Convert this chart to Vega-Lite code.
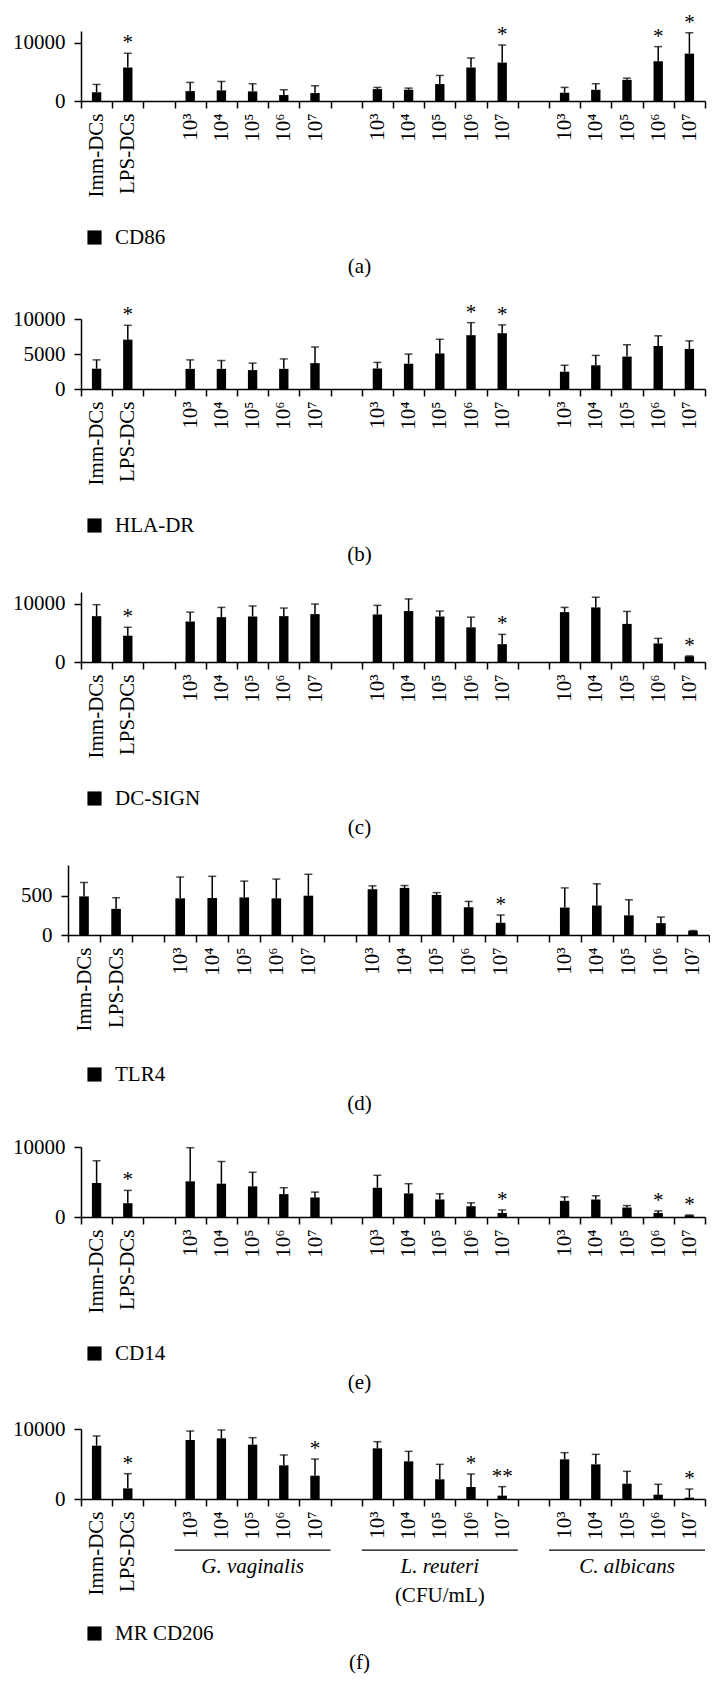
{
  "$schema": "https://vega.github.io/schema/vega-lite/v6.json",
  "padding": {"left": 12, "top": 11, "right": 0, "bottom": 5},
  "background": "white",
  "datasets": {
    "a": [
      {"k": "a|Imm-DCs", "v": 1500, "e": 2840, "s": "", "m": "CD86"},
      {"k": "b|LPS-DCs", "v": 5740, "e": 8180, "s": "*", "m": "CD86"},
      {"k": "G|10³", "v": 1700, "e": 3190, "s": "", "m": "CD86"},
      {"k": "G|10⁴", "v": 1820, "e": 3350, "s": "", "m": "CD86"},
      {"k": "G|10⁵", "v": 1650, "e": 2960, "s": "", "m": "CD86"},
      {"k": "G|10⁶", "v": 1020, "e": 1930, "s": "", "m": "CD86"},
      {"k": "G|10⁷", "v": 1360, "e": 2610, "s": "", "m": "CD86"},
      {"k": "L|10³", "v": 2040, "e": 2330, "s": "", "m": "CD86"},
      {"k": "L|10⁴", "v": 1930, "e": 2210, "s": "", "m": "CD86"},
      {"k": "L|10⁵", "v": 2900, "e": 4380, "s": "", "m": "CD86"},
      {"k": "L|10⁶", "v": 5740, "e": 7380, "s": "", "m": "CD86"},
      {"k": "L|10⁷", "v": 6590, "e": 9600, "s": "*", "m": "CD86"},
      {"k": "C|10³", "v": 1420, "e": 2330, "s": "", "m": "CD86"},
      {"k": "C|10⁴", "v": 1930, "e": 2960, "s": "", "m": "CD86"},
      {"k": "C|10⁵", "v": 3630, "e": 3920, "s": "", "m": "CD86"},
      {"k": "C|10⁶", "v": 6810, "e": 9320, "s": "*", "m": "CD86"},
      {"k": "C|10⁷", "v": 8120, "e": 11700, "s": "*", "m": "CD86"}
    ],
    "b": [
      {"k": "a|Imm-DCs", "v": 2900, "e": 4160, "s": "", "m": "HLA-DR"},
      {"k": "b|LPS-DCs", "v": 7050, "e": 9100, "s": "*", "m": "HLA-DR"},
      {"k": "G|10³", "v": 2880, "e": 4160, "s": "", "m": "HLA-DR"},
      {"k": "G|10⁴", "v": 2880, "e": 4070, "s": "", "m": "HLA-DR"},
      {"k": "G|10⁵", "v": 2700, "e": 3700, "s": "", "m": "HLA-DR"},
      {"k": "G|10⁶", "v": 2880, "e": 4300, "s": "", "m": "HLA-DR"},
      {"k": "G|10⁷", "v": 3700, "e": 6000, "s": "", "m": "HLA-DR"},
      {"k": "L|10³", "v": 2930, "e": 3800, "s": "", "m": "HLA-DR"},
      {"k": "L|10⁴", "v": 3610, "e": 4990, "s": "", "m": "HLA-DR"},
      {"k": "L|10⁵", "v": 5080, "e": 7100, "s": "", "m": "HLA-DR"},
      {"k": "L|10⁶", "v": 7690, "e": 9480, "s": "*", "m": "HLA-DR"},
      {"k": "L|10⁷", "v": 7970, "e": 9160, "s": "*", "m": "HLA-DR"},
      {"k": "C|10³", "v": 2470, "e": 3390, "s": "", "m": "HLA-DR"},
      {"k": "C|10⁴", "v": 3390, "e": 4800, "s": "", "m": "HLA-DR"},
      {"k": "C|10⁵", "v": 4630, "e": 6320, "s": "", "m": "HLA-DR"},
      {"k": "C|10⁶", "v": 6140, "e": 7600, "s": "", "m": "HLA-DR"},
      {"k": "C|10⁷", "v": 5730, "e": 6870, "s": "", "m": "HLA-DR"}
    ],
    "c": [
      {"k": "a|Imm-DCs", "v": 7860, "e": 9830, "s": "", "m": "DC-SIGN"},
      {"k": "b|LPS-DCs", "v": 4510, "e": 5950, "s": "*", "m": "DC-SIGN"},
      {"k": "G|10³", "v": 6940, "e": 8550, "s": "", "m": "DC-SIGN"},
      {"k": "G|10⁴", "v": 7690, "e": 9360, "s": "", "m": "DC-SIGN"},
      {"k": "G|10⁵", "v": 7800, "e": 9600, "s": "", "m": "DC-SIGN"},
      {"k": "G|10⁶", "v": 7860, "e": 9250, "s": "", "m": "DC-SIGN"},
      {"k": "G|10⁷", "v": 8210, "e": 9940, "s": "", "m": "DC-SIGN"},
      {"k": "L|10³", "v": 8150, "e": 9710, "s": "", "m": "DC-SIGN"},
      {"k": "L|10⁴", "v": 8730, "e": 10810, "s": "", "m": "DC-SIGN"},
      {"k": "L|10⁵", "v": 7800, "e": 8730, "s": "", "m": "DC-SIGN"},
      {"k": "L|10⁶", "v": 5950, "e": 7690, "s": "", "m": "DC-SIGN"},
      {"k": "L|10⁷", "v": 3060, "e": 4740, "s": "*", "m": "DC-SIGN"},
      {"k": "C|10³", "v": 8550, "e": 9360, "s": "", "m": "DC-SIGN"},
      {"k": "C|10⁴", "v": 9360, "e": 11100, "s": "", "m": "DC-SIGN"},
      {"k": "C|10⁵", "v": 6530, "e": 8670, "s": "", "m": "DC-SIGN"},
      {"k": "C|10⁶", "v": 3180, "e": 4050, "s": "", "m": "DC-SIGN"},
      {"k": "C|10⁷", "v": 980, "e": 1040, "s": "*", "m": "DC-SIGN"}
    ],
    "d": [
      {"k": "a|Imm-DCs", "v": 491, "e": 668, "s": "", "m": "TLR4"},
      {"k": "b|LPS-DCs", "v": 332, "e": 474, "s": "", "m": "TLR4"},
      {"k": "G|10³", "v": 466, "e": 737, "s": "", "m": "TLR4"},
      {"k": "G|10⁴", "v": 470, "e": 746, "s": "", "m": "TLR4"},
      {"k": "G|10⁵", "v": 478, "e": 685, "s": "", "m": "TLR4"},
      {"k": "G|10⁶", "v": 466, "e": 711, "s": "", "m": "TLR4"},
      {"k": "G|10⁷", "v": 500, "e": 772, "s": "", "m": "TLR4"},
      {"k": "L|10³", "v": 582, "e": 625, "s": "", "m": "TLR4"},
      {"k": "L|10⁴", "v": 599, "e": 629, "s": "", "m": "TLR4"},
      {"k": "L|10⁵", "v": 509, "e": 539, "s": "", "m": "TLR4"},
      {"k": "L|10⁶", "v": 353, "e": 427, "s": "", "m": "TLR4"},
      {"k": "L|10⁷", "v": 155, "e": 254, "s": "*", "m": "TLR4"},
      {"k": "C|10³", "v": 349, "e": 599, "s": "", "m": "TLR4"},
      {"k": "C|10⁴", "v": 375, "e": 651, "s": "", "m": "TLR4"},
      {"k": "C|10⁵", "v": 250, "e": 448, "s": "", "m": "TLR4"},
      {"k": "C|10⁶", "v": 151, "e": 228, "s": "", "m": "TLR4"},
      {"k": "C|10⁷", "v": 52, "e": 56, "s": "", "m": "TLR4"}
    ],
    "e": [
      {"k": "a|Imm-DCs", "v": 4860, "e": 8030, "s": "", "m": "CD14"},
      {"k": "b|LPS-DCs", "v": 1970, "e": 3800, "s": "*", "m": "CD14"},
      {"k": "G|10³", "v": 5100, "e": 9900, "s": "", "m": "CD14"},
      {"k": "G|10⁴", "v": 4760, "e": 7930, "s": "", "m": "CD14"},
      {"k": "G|10⁵", "v": 4380, "e": 6390, "s": "", "m": "CD14"},
      {"k": "G|10⁶", "v": 3270, "e": 4180, "s": "", "m": "CD14"},
      {"k": "G|10⁷", "v": 2790, "e": 3560, "s": "", "m": "CD14"},
      {"k": "L|10³", "v": 4180, "e": 5960, "s": "", "m": "CD14"},
      {"k": "L|10⁴", "v": 3370, "e": 4760, "s": "", "m": "CD14"},
      {"k": "L|10⁵", "v": 2500, "e": 3320, "s": "", "m": "CD14"},
      {"k": "L|10⁶", "v": 1540, "e": 2020, "s": "", "m": "CD14"},
      {"k": "L|10⁷", "v": 580, "e": 1010, "s": "*", "m": "CD14"},
      {"k": "C|10³", "v": 2310, "e": 2880, "s": "", "m": "CD14"},
      {"k": "C|10⁴", "v": 2500, "e": 3030, "s": "", "m": "CD14"},
      {"k": "C|10⁵", "v": 1350, "e": 1630, "s": "", "m": "CD14"},
      {"k": "C|10⁶", "v": 580, "e": 870, "s": "*", "m": "CD14"},
      {"k": "C|10⁷", "v": 240, "e": 290, "s": "*", "m": "CD14"}
    ],
    "f": [
      {"k": "a|Imm-DCs", "v": 7620, "e": 9000, "s": "", "m": "MR CD206"},
      {"k": "b|LPS-DCs", "v": 1520, "e": 3620, "s": "*", "m": "MR CD206"},
      {"k": "G|10³", "v": 8430, "e": 9710, "s": "", "m": "MR CD206"},
      {"k": "G|10⁴", "v": 8670, "e": 9860, "s": "", "m": "MR CD206"},
      {"k": "G|10⁵", "v": 7760, "e": 8760, "s": "", "m": "MR CD206"},
      {"k": "G|10⁶", "v": 4810, "e": 6290, "s": "", "m": "MR CD206"},
      {"k": "G|10⁷", "v": 3330, "e": 5710, "s": "*", "m": "MR CD206"},
      {"k": "L|10³", "v": 7240, "e": 8190, "s": "", "m": "MR CD206"},
      {"k": "L|10⁴", "v": 5380, "e": 6810, "s": "", "m": "MR CD206"},
      {"k": "L|10⁵", "v": 2810, "e": 4950, "s": "", "m": "MR CD206"},
      {"k": "L|10⁶", "v": 1710, "e": 3570, "s": "*", "m": "MR CD206"},
      {"k": "L|10⁷", "v": 480, "e": 1760, "s": "**", "m": "MR CD206"},
      {"k": "C|10³", "v": 5670, "e": 6620, "s": "", "m": "MR CD206"},
      {"k": "C|10⁴", "v": 4950, "e": 6380, "s": "", "m": "MR CD206"},
      {"k": "C|10⁵", "v": 2190, "e": 3950, "s": "", "m": "MR CD206"},
      {"k": "C|10⁶", "v": 620, "e": 2100, "s": "", "m": "MR CD206"},
      {"k": "C|10⁷", "v": 190, "e": 1430, "s": "*", "m": "MR CD206"}
    ],
    "grp": [
      {"g": "G. vaginalis", "a": "G|10³", "b": "G|10⁷", "c": "G|10⁵"},
      {"g": "L. reuteri", "a": "L|10³", "b": "L|10⁷", "c": "L|10⁵"},
      {"g": "C. albicans", "a": "C|10³", "b": "C|10⁷", "c": "C|10⁵"}
    ],
    "unit": [
      {"c": "L|10⁵", "t": "(CFU/mL)"}
    ]
  },
  "vconcat": [
    {
      "width": 641, "height": 70,
      "data": {"name": "a"},
      "title": {"text": "(a)", "dx": -29},
      "layer": [
        {"mark": {"type": "bar", "width": {"band": 0.3}},
         "encoding": {
           "x": {"field": "k", "type": "nominal", "sort": null, "title": null,
                 "scale": {"domain": ["a|Imm-DCs","b|LPS-DCs","s1|","G|10³","G|10⁴","G|10⁵","G|10⁶","G|10⁷","s2|","L|10³","L|10⁴","L|10⁵","L|10⁶","L|10⁷","s3|","C|10³","C|10⁴","C|10⁵","C|10⁶","C|10⁷"], "range": [13, 637], "paddingInner": 0, "paddingOuter": 0}},
           "y": {"field": "v", "type": "quantitative", "title": null,
                 "scale": {"domain": [0, 12000], "range": [70, 0], "nice": false, "zero": true},
                 "axis": {"values": [0, 5000, 10000], "offset": -13}},
           "color": {"field": "m", "type": "nominal", "scale": {"range": ["black"]},
                     "legend": {"title": null, "legendX": 16, "legendY": 196}}
         }},
        {"mark": {"type": "rule", "strokeWidth": 1.5, "color": "black"},
         "encoding": {"x": {"field": "k", "type": "nominal", "sort": null}, "y": {"field": "v", "type": "quantitative", "title": null}, "y2": {"field": "e"}}},
        {"mark": {"type": "tick", "size": 8, "thickness": 1.5, "color": "black"},
         "encoding": {"x": {"field": "k", "type": "nominal", "sort": null}, "y": {"field": "e", "type": "quantitative", "title": null}}},
        {"mark": {"type": "text", "dy": -4, "baseline": "alphabetic", "fontSize": 21, "font": "Liberation Serif", "color": "black"},
         "encoding": {"x": {"field": "k", "type": "nominal", "sort": null}, "y": {"field": "e", "type": "quantitative", "title": null}, "text": {"field": "s"}}}
      ]
    },
    {
      "width": 641, "height": 86,
      "data": {"name": "b"},
      "title": {"text": "(b)", "dx": -29},
      "layer": [
        {"mark": {"type": "bar", "width": {"band": 0.3}},
         "encoding": {
           "x": {"field": "k", "type": "nominal", "sort": null, "title": null,
                 "scale": {"domain": ["a|Imm-DCs","b|LPS-DCs","s1|","G|10³","G|10⁴","G|10⁵","G|10⁶","G|10⁷","s2|","L|10³","L|10⁴","L|10⁵","L|10⁶","L|10⁷","s3|","C|10³","C|10⁴","C|10⁵","C|10⁶","C|10⁷"], "range": [13, 637], "paddingInner": 0, "paddingOuter": 0}},
           "y": {"field": "v", "type": "quantitative", "title": null,
                 "scale": {"domain": [0, 10000], "range": [86, 16], "nice": false, "zero": true},
                 "axis": {"values": [0, 5000, 10000], "offset": -13}},
           "color": {"field": "m", "type": "nominal", "scale": {"range": ["black"]},
                     "legend": {"title": null, "legendX": 16, "legendY": 212}}
         }},
        {"mark": {"type": "rule", "strokeWidth": 1.5, "color": "black"},
         "encoding": {"x": {"field": "k", "type": "nominal", "sort": null}, "y": {"field": "v", "type": "quantitative", "title": null}, "y2": {"field": "e"}}},
        {"mark": {"type": "tick", "size": 8, "thickness": 1.5, "color": "black"},
         "encoding": {"x": {"field": "k", "type": "nominal", "sort": null}, "y": {"field": "e", "type": "quantitative", "title": null}}},
        {"mark": {"type": "text", "dy": -4, "baseline": "alphabetic", "fontSize": 21, "font": "Liberation Serif", "color": "black"},
         "encoding": {"x": {"field": "k", "type": "nominal", "sort": null}, "y": {"field": "e", "type": "quantitative", "title": null}, "text": {"field": "s"}}}
      ]
    },
    {
      "width": 641, "height": 71,
      "data": {"name": "c"},
      "title": {"text": "(c)", "dx": -29},
      "layer": [
        {"mark": {"type": "bar", "width": {"band": 0.3}},
         "encoding": {
           "x": {"field": "k", "type": "nominal", "sort": null, "title": null,
                 "scale": {"domain": ["a|Imm-DCs","b|LPS-DCs","s1|","G|10³","G|10⁴","G|10⁵","G|10⁶","G|10⁷","s2|","L|10³","L|10⁴","L|10⁵","L|10⁶","L|10⁷","s3|","C|10³","C|10⁴","C|10⁵","C|10⁶","C|10⁷"], "range": [13, 637], "paddingInner": 0, "paddingOuter": 0}},
           "y": {"field": "v", "type": "quantitative", "title": null,
                 "scale": {"domain": [0, 12000], "range": [71, 1], "nice": false, "zero": true},
                 "axis": {"values": [0, 5000, 10000], "offset": -13}},
           "color": {"field": "m", "type": "nominal", "scale": {"range": ["black"]},
                     "legend": {"title": null, "legendX": 16, "legendY": 197}}
         }},
        {"mark": {"type": "rule", "strokeWidth": 1.5, "color": "black"},
         "encoding": {"x": {"field": "k", "type": "nominal", "sort": null}, "y": {"field": "v", "type": "quantitative", "title": null}, "y2": {"field": "e"}}},
        {"mark": {"type": "tick", "size": 8, "thickness": 1.5, "color": "black"},
         "encoding": {"x": {"field": "k", "type": "nominal", "sort": null}, "y": {"field": "e", "type": "quantitative", "title": null}}},
        {"mark": {"type": "text", "dy": -4, "baseline": "alphabetic", "fontSize": 21, "font": "Liberation Serif", "color": "black"},
         "encoding": {"x": {"field": "k", "type": "nominal", "sort": null}, "y": {"field": "e", "type": "quantitative", "title": null}, "text": {"field": "s"}}}
      ]
    },
    {
      "width": 641, "height": 71,
      "data": {"name": "d"},
      "title": {"text": "(d)", "dx": -29},
      "layer": [
        {"mark": {"type": "bar", "width": {"band": 0.3}},
         "encoding": {
           "x": {"field": "k", "type": "nominal", "sort": null, "title": null,
                 "scale": {"domain": ["a|Imm-DCs","b|LPS-DCs","s1|","G|10³","G|10⁴","G|10⁵","G|10⁶","G|10⁷","s2|","L|10³","L|10⁴","L|10⁵","L|10⁶","L|10⁷","s3|","C|10³","C|10⁴","C|10⁵","C|10⁶","C|10⁷"], "range": [0, 641], "paddingInner": 0, "paddingOuter": 0}},
           "y": {"field": "v", "type": "quantitative", "title": null,
                 "scale": {"domain": [0, 890], "range": [71, 1], "nice": false, "zero": true},
                 "axis": {"values": [0, 500], "offset": 0}},
           "color": {"field": "m", "type": "nominal", "scale": {"range": ["black"]},
                     "legend": {"title": null, "legendX": 16, "legendY": 200}}
         }},
        {"mark": {"type": "rule", "strokeWidth": 1.5, "color": "black"},
         "encoding": {"x": {"field": "k", "type": "nominal", "sort": null}, "y": {"field": "v", "type": "quantitative", "title": null}, "y2": {"field": "e"}}},
        {"mark": {"type": "tick", "size": 8, "thickness": 1.5, "color": "black"},
         "encoding": {"x": {"field": "k", "type": "nominal", "sort": null}, "y": {"field": "e", "type": "quantitative", "title": null}}},
        {"mark": {"type": "text", "dy": -4, "baseline": "alphabetic", "fontSize": 21, "font": "Liberation Serif", "color": "black"},
         "encoding": {"x": {"field": "k", "type": "nominal", "sort": null}, "y": {"field": "e", "type": "quantitative", "title": null}, "text": {"field": "s"}}}
      ]
    },
    {
      "width": 641, "height": 80,
      "data": {"name": "e"},
      "title": {"text": "(e)", "dx": -29},
      "layer": [
        {"mark": {"type": "bar", "width": {"band": 0.3}},
         "encoding": {
           "x": {"field": "k", "type": "nominal", "sort": null, "title": null,
                 "scale": {"domain": ["a|Imm-DCs","b|LPS-DCs","s1|","G|10³","G|10⁴","G|10⁵","G|10⁶","G|10⁷","s2|","L|10³","L|10⁴","L|10⁵","L|10⁶","L|10⁷","s3|","C|10³","C|10⁴","C|10⁵","C|10⁶","C|10⁷"], "range": [13, 637], "paddingInner": 0, "paddingOuter": 0}},
           "y": {"field": "v", "type": "quantitative", "title": null,
                 "scale": {"domain": [0, 10000], "range": [80, 10], "nice": false, "zero": true},
                 "axis": {"values": [0, 5000, 10000], "offset": -13}},
           "color": {"field": "m", "type": "nominal", "scale": {"range": ["black"]},
                     "legend": {"title": null, "legendX": 16, "legendY": 206}}
         }},
        {"mark": {"type": "rule", "strokeWidth": 1.5, "color": "black"},
         "encoding": {"x": {"field": "k", "type": "nominal", "sort": null}, "y": {"field": "v", "type": "quantitative", "title": null}, "y2": {"field": "e"}}},
        {"mark": {"type": "tick", "size": 8, "thickness": 1.5, "color": "black"},
         "encoding": {"x": {"field": "k", "type": "nominal", "sort": null}, "y": {"field": "e", "type": "quantitative", "title": null}}},
        {"mark": {"type": "text", "dy": -4, "baseline": "alphabetic", "fontSize": 21, "font": "Liberation Serif", "color": "black"},
         "encoding": {"x": {"field": "k", "type": "nominal", "sort": null}, "y": {"field": "e", "type": "quantitative", "title": null}, "text": {"field": "s"}}}
      ]
    },
    {
      "width": 641, "height": 80,
      "title": {"text": "(f)", "dx": -29},
      "layer": [
        {"data": {"name": "f"},
         "mark": {"type": "bar", "width": {"band": 0.3}},
         "encoding": {
           "x": {"field": "k", "type": "nominal", "sort": null, "title": null,
                 "scale": {"domain": ["a|Imm-DCs","b|LPS-DCs","s1|","G|10³","G|10⁴","G|10⁵","G|10⁶","G|10⁷","s2|","L|10³","L|10⁴","L|10⁵","L|10⁶","L|10⁷","s3|","C|10³","C|10⁴","C|10⁵","C|10⁶","C|10⁷"], "range": [13, 637], "paddingInner": 0, "paddingOuter": 0}},
           "y": {"field": "v", "type": "quantitative", "title": null,
                 "scale": {"domain": [0, 10000], "range": [80, 10], "nice": false, "zero": true},
                 "axis": {"values": [0, 5000, 10000], "offset": -13}},
           "color": {"field": "m", "type": "nominal", "scale": {"range": ["black"]},
                     "legend": {"title": null, "legendX": 16, "legendY": 204}}
         }},
        {"data": {"name": "f"},
         "mark": {"type": "rule", "strokeWidth": 1.5, "color": "black"},
         "encoding": {"x": {"field": "k", "type": "nominal", "sort": null}, "y": {"field": "v", "type": "quantitative", "title": null}, "y2": {"field": "e"}}},
        {"data": {"name": "f"},
         "mark": {"type": "tick", "size": 8, "thickness": 1.5, "color": "black"},
         "encoding": {"x": {"field": "k", "type": "nominal", "sort": null}, "y": {"field": "e", "type": "quantitative", "title": null}}},
        {"data": {"name": "f"},
         "mark": {"type": "text", "dy": -4, "baseline": "alphabetic", "fontSize": 21, "font": "Liberation Serif", "color": "black"},
         "encoding": {"x": {"field": "k", "type": "nominal", "sort": null}, "y": {"field": "e", "type": "quantitative", "title": null}, "text": {"field": "s"}}},
        {"data": {"name": "grp"},
         "mark": {"type": "rule", "strokeWidth": 1.2, "color": "black", "xOffset": -15.6, "x2Offset": 15.6},
         "encoding": {"x": {"field": "a", "type": "nominal", "sort": null}, "x2": {"field": "b"}, "y": {"datum": -7300, "type": "quantitative"}}},
        {"data": {"name": "grp"},
         "mark": {"type": "text", "baseline": "middle", "fontSize": 21, "font": "Liberation Serif", "fontStyle": "italic", "color": "black"},
         "encoding": {"x": {"field": "c", "type": "nominal", "sort": null}, "y": {"datum": -9700, "type": "quantitative"}, "text": {"field": "g"}}},
        {"data": {"name": "unit"},
         "mark": {"type": "text", "baseline": "middle", "fontSize": 21, "font": "Liberation Serif", "color": "black"},
         "encoding": {"x": {"field": "c", "type": "nominal", "sort": null}, "y": {"datum": -13900, "type": "quantitative"}, "text": {"field": "t"}}}
      ]
    }
  ],
  "spacing": 202,
  "bounds": "flush",
  "align": "none",
  "resolve": {"scale": {"x": "independent", "y": "independent", "color": "independent"}, "legend": {"color": "independent"}},
  "config": {
    "view": {"stroke": null},
    "font": "Liberation Serif",
    "axis": {"domainColor": "black", "domainWidth": 1.5, "tickColor": "black", "tickWidth": 1.5, "tickSize": 7, "labelFont": "Liberation Serif", "labelFontSize": 21, "labelColor": "black", "grid": false},
    "axisX": {"labelAngle": -90, "labelPadding": 5, "tickBand": "extent", "labelExpr": "split(datum.value, '|')[1]"},
    "axisY": {"labelPadding": 9, "format": "d"},
    "legend": {"orient": "none", "symbolType": "square", "symbolSize": 200, "symbolStrokeWidth": 0, "labelFont": "Liberation Serif", "labelFontSize": 21, "labelColor": "black", "padding": 0, "labelOffset": 10},
    "title": {"orient": "bottom", "anchor": "middle", "frame": "group", "offset": 8, "font": "Liberation Serif", "fontSize": 21, "fontWeight": "normal", "color": "black"}
  }
}
